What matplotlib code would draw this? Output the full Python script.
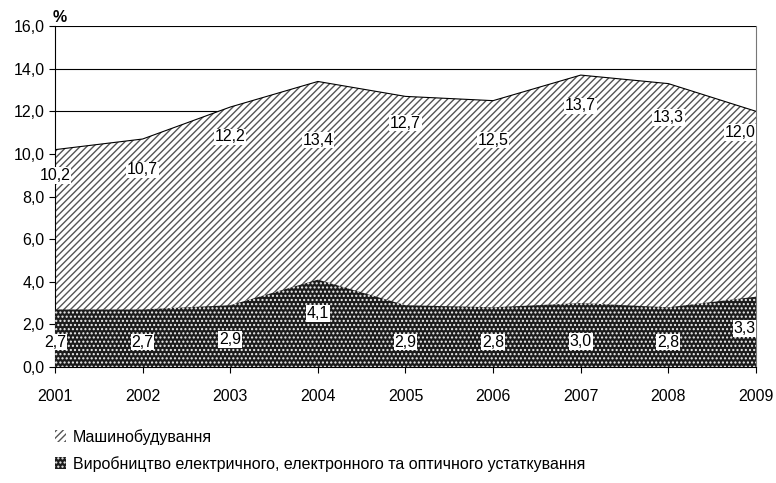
import numpy as np
import matplotlib.pyplot as plt
from matplotlib.ticker import FuncFormatter

plt.rcParams['font.family'] = ['Liberation Sans', 'DejaVu Sans']
plt.rcParams['hatch.linewidth'] = 1.0

years = [2001, 2002, 2003, 2004, 2005, 2006, 2007, 2008, 2009]
machine = [10.2, 10.7, 12.2, 13.4, 12.7, 12.5, 13.7, 13.3, 12.0]
electro = [2.7, 2.7, 2.9, 4.1, 2.9, 2.8, 3.0, 2.8, 3.3]
machine_name = "Машинобудування"
electro_name = "Виробництво електричного, електронного та оптичного устаткування"


def fmt(v):
    return f"{v:.1f}".replace(".", ",")


fig = plt.figure(figsize=(7.76, 4.83), dpi=100)
ax = fig.add_axes([0.0709, 0.2402, 0.9033, 0.7058])

ax.fill_between(years, 0, machine, facecolor="white", edgecolor="#555555",
                hatch="/////", linewidth=0, zorder=2, label=machine_name)
ax.plot(years, machine, color="black", lw=0.8, zorder=4)
ax.fill_between(years, 0, electro, facecolor="#1c1c1c", edgecolor="#f0f0f0",
                hatch="....", linewidth=0, zorder=3, label=electro_name)

# label offsets below the line (in data units)
m_off = [1.2, 1.45, 1.4, 2.75, 1.25, 1.85, 1.45, 1.6, 1.0]
e_off = [1.53, 1.53, 1.6, 1.6, 1.73, 1.63, 1.8, 1.63, 1.5]
bbox = dict(boxstyle="square,pad=0.05", fc="white", ec="none")
for i, x in enumerate(years):
    last = i == len(years) - 1
    kw = dict(ha="right" if last else "center", va="center", fontsize=11.5,
              bbox=bbox, zorder=5, clip_on=last)
    ax.text(x, machine[i] - m_off[i], fmt(machine[i]), **kw)
    ax.text(x, electro[i] - e_off[i], fmt(electro[i]), **kw)

ax.set_xlim(2001, 2009)
ax.set_ylim(0, 16)
ax.set_xticks(years)
ax.set_yticks(np.arange(0, 16.1, 2))
ax.yaxis.set_major_formatter(FuncFormatter(lambda v, p: fmt(v)))
ax.tick_params(labelsize=11.5, length=4, width=0.8, colors="black")
ax.tick_params(axis="x", pad=12)
ax.grid(axis="y", color="black", lw=0.8, zorder=1)
ax.set_axisbelow(True)
ax.spines["top"].set_visible(False)
ax.spines["right"].set_color("#777777")
ax.spines["left"].set_linewidth(0.8)
ax.spines["bottom"].set_linewidth(0.8)

ax.text(-0.004, 1.003, "%", transform=ax.transAxes, fontsize=11.5,
        fontweight="bold", ha="left", va="bottom")

fig.legend(loc="upper left", bbox_to_anchor=(0.062, 0.125), frameon=False,
           fontsize=11.5, handlelength=0.75, handleheight=0.75, handletextpad=0.4,
           labelspacing=0.7, borderaxespad=0)

fig.savefig("out.png", dpi=100)
